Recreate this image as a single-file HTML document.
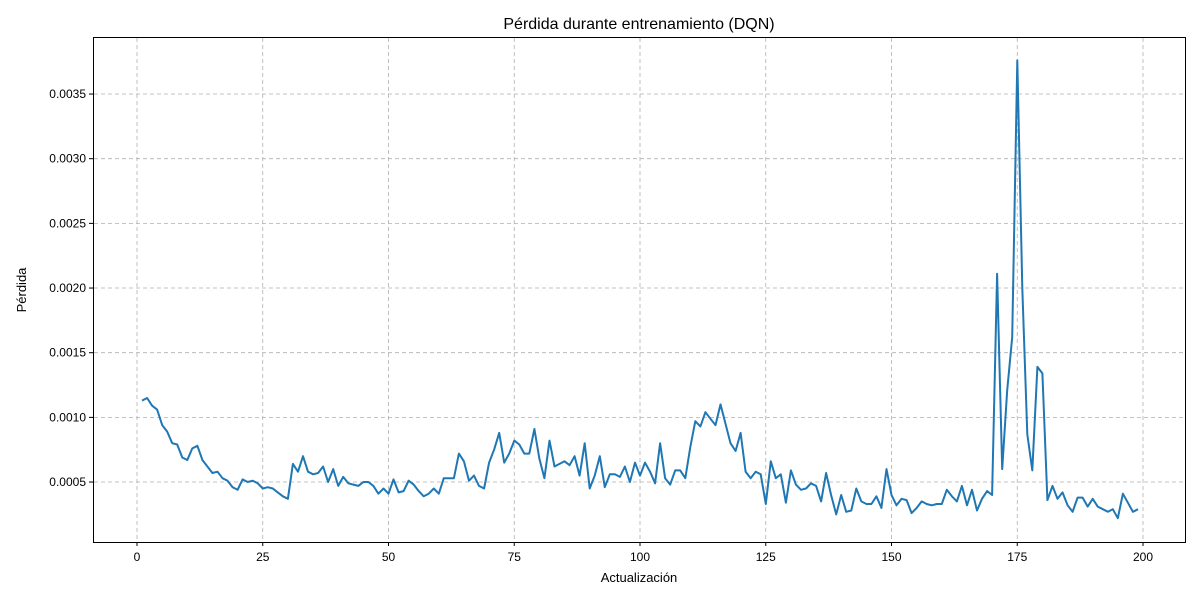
<!DOCTYPE html>
<html><head><meta charset="utf-8"><style>
body{margin:0;background:#fff;font-family:"Liberation Sans","DejaVu Sans",sans-serif}
svg text{font-family:"Liberation Sans","DejaVu Sans",sans-serif;fill:#000}
</style></head><body>
<svg id="chart" width="1200" height="600" viewBox="0 0 1200 600">
<rect width="1200" height="600" fill="#fff"/>
<g id="grid"></g>
<g id="ticks"></g>
<path id="line" fill="none" stroke="#1f77b4" stroke-width="2" stroke-linejoin="round"/>
<rect x="93.5" y="37.5" width="1092" height="505" fill="none" stroke="#000" stroke-width="1"/>
<text x="639" y="29" font-size="16" text-anchor="middle">Pérdida durante entrenamiento (DQN)</text>
<text x="639" y="582" font-size="13" text-anchor="middle">Actualización</text>
<text x="26" y="290" font-size="13" text-anchor="middle" transform="rotate(-90 26 290)">Pérdida</text>
</svg>
<script>
const xTicks=[0,25,50,75,100,125,150,175,200];
const yTicks=[0.0005,0.0010,0.0015,0.0020,0.0025,0.0030,0.0035];
const yTickLabels=["0.0005","0.0010","0.0015","0.0020","0.0025","0.0030","0.0035"];
const lossE3=[1.13,1.15,1.09,1.06,0.94,0.89,0.80,0.79,0.69,0.67,0.76,0.78,0.67,0.62,0.57,0.58,0.53,0.51,0.46,0.44,
0.52,0.50,0.51,0.49,0.45,0.46,0.45,0.42,0.39,0.37,0.64,0.58,0.70,0.58,0.56,0.57,0.62,0.50,0.60,0.47,
0.54,0.49,0.48,0.47,0.50,0.50,0.47,0.41,0.45,0.41,0.52,0.42,0.43,0.51,0.48,0.43,0.39,0.41,0.45,0.41,
0.53,0.53,0.53,0.72,0.66,0.51,0.55,0.47,0.45,0.65,0.75,0.88,0.65,0.72,0.82,0.79,0.72,0.72,0.91,0.68,
0.53,0.82,0.62,0.64,0.66,0.63,0.70,0.55,0.80,0.45,0.55,0.70,0.46,0.56,0.56,0.54,0.62,0.50,0.65,0.55,
0.65,0.58,0.49,0.80,0.53,0.48,0.59,0.59,0.53,0.77,0.97,0.93,1.04,0.99,0.94,1.10,0.95,0.80,0.74,0.88,
0.58,0.53,0.58,0.56,0.33,0.66,0.53,0.56,0.34,0.59,0.48,0.44,0.45,0.49,0.47,0.35,0.57,0.40,0.25,0.40,
0.27,0.28,0.45,0.35,0.33,0.33,0.39,0.30,0.60,0.40,0.32,0.37,0.36,0.26,0.30,0.35,0.33,0.32,0.33,0.33,
0.44,0.39,0.35,0.47,0.32,0.44,0.28,0.37,0.43,0.40,2.11,0.60,1.21,1.62,3.76,2.00,0.87,0.59,1.39,1.34,
0.36,0.47,0.37,0.42,0.32,0.27,0.38,0.38,0.31,0.37,0.31,0.29,0.27,0.29,0.22,0.41,0.34,0.27,0.29];
const NS="http://www.w3.org/2000/svg";
const X=v=>137+v*5.03;
const Y=v=>546.7-v*129333;
const grid=document.getElementById('grid'),ticks=document.getElementById('ticks');
function mk(tag,attrs,parent){const e=document.createElementNS(NS,tag);for(const k in attrs)e.setAttribute(k,attrs[k]);parent.appendChild(e);return e;}
xTicks.forEach(t=>{const x=X(t);
const g=mk('line',{x1:x,x2:x,y1:38,y2:542,stroke:'#b0b0b0','stroke-width':0.8,'stroke-dasharray':'4,3'},grid);


const tk=mk('line',{x1:x,x2:x,y1:542,y2:546,stroke:'#000'},ticks);


const tx=mk('text',{x:x,y:561,'font-size':12,'text-anchor':'middle'},ticks);tx.textContent=t;

});
yTicks.forEach((t,i)=>{const y=Y(t);
const g=mk('line',{x1:94,x2:1185,y1:y,y2:y,stroke:'#b0b0b0','stroke-width':0.8,'stroke-dasharray':'4,3'},grid);


const tk=mk('line',{x1:89,x2:93,y1:y,y2:y,stroke:'#000'},ticks);


const tx=mk('text',{x:86,y:y+4,'font-size':12,'text-anchor':'end'},ticks);tx.textContent=yTickLabels[i];

});
document.getElementById('line').setAttribute('d',lossE3.map((v,i)=>(i?'L':'M')+X(i+1).toFixed(1)+','+Y(v/1000).toFixed(1)).join(''));
</script>
</body></html>
